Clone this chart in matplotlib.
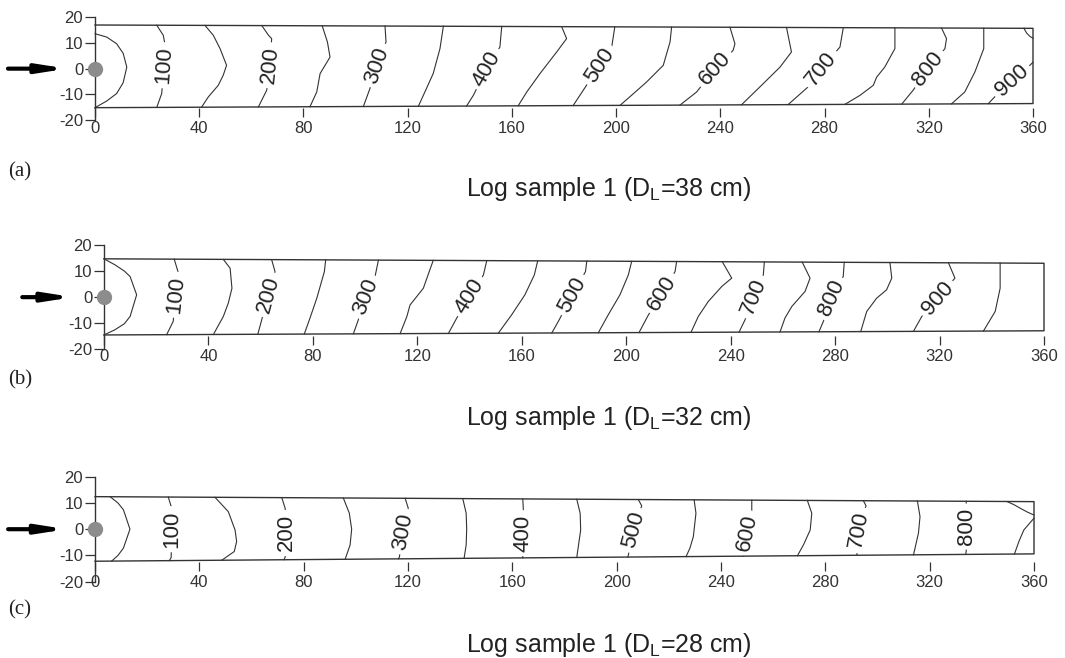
import numpy as np
import matplotlib.pyplot as plt

plt.rcParams["font.family"] = ["Liberation Sans", "DejaVu Sans"]
plt.rcParams["mathtext.fontset"] = "custom"
plt.rcParams["mathtext.rm"] = "Liberation Sans"
plt.rcParams["axes.unicode_minus"] = False

X_TICKS = list(range(0, 361, 40))
Y_TICKS = [-20, -10, 0, 10, 20]

# ------------------------------------------------------------
# (a) D_L = 38 cm
# ------------------------------------------------------------
A_TITLE = r"Log sample 1 (D$_{\mathregular{L}}$=38 cm)"
A_TOP = (17.0, 15.7)      # log top edge, y at x=0 and x=360
A_BOT = (-15.2, -13.6)    # log bottom edge
A_LEVELS = [50, 100, 150, 200, 250, 300, 350, 400, 450, 500,
            550, 600, 650, 700, 750, 800, 850, 900, 950]
A_LINES = [
    [(0.0, 13.6), (4.5, 12.3), (8.3, 9.7), (10.8, 6.0), (12.2, 0.6),
     (10.8, -5.5), (8.3, -9.7), (4.5, -12.6), (0.0, -14.0)],
    [(23.7, 17.0), (26.2, 13.0), (26.9, 9.2), (26.5, 1.3), (25.6, -9.7), (23.7, -15.0)],
    [(42.2, 17.0), (45.4, 13.0), (48.0, 7.8), (50.5, 1.3), (49.2, -2.6),
     (47.3, -6.5), (43.5, -11.0), (40.9, -15.0)],
    [(64.0, 17.0), (66.6, 13.0), (67.8, 11.7), (67.2, 1.3), (65.9, -8.4), (62.7, -15.0)],
    [(87.2, 17.0), (89.2, 10.4), (90.2, 4.5), (88.3, 1.3), (86.4, -1.9), (85.1, -9.1), (82.5, -15.0)],
    [(111.3, 17.0), (111.7, 10.4), (108.3, 1.3), (105.5, -7.8), (103.0, -15.0)],
    [(133.7, 17.0), (132.4, 7.8), (129.8, -1.9), (126.6, -9.1), (124.1, -15.0)],
    [(156.1, 17.0), (155.4, 8.4), (150.3, 0.0), (145.2, -10.4), (142.6, -15.0)],
    [(179.1, 17.0), (181.0, 11.7), (177.2, 6.5), (170.8, -1.9), (165.7, -9.1), (162.4, -14.9)],
    [(199.5, 16.7), (198.3, 8.4), (193.7, 1.3), (187.4, -8.4), (183.5, -14.8)],
    [(221.3, 16.6), (220.7, 10.4), (218.1, 1.3), (211.7, -5.2), (205.9, -10.4), (201.5, -14.7)],
    [(243.7, 16.5), (245.6, 9.7), (244.9, 7.1), (237.9, 0.0), (230.9, -9.1), (224.5, -14.6)],
    [(265.4, 16.4), (266.0, 13.0), (267.3, 6.5), (262.9, 0.6), (255.2, -7.1), (248.1, -14.4)],
    [(287.2, 16.3), (285.9, 8.4), (278.8, 0.0), (273.7, -7.1), (266.0, -14.3)],
    [(307.0, 16.2), (307.0, 7.8), (303.1, 0.6), (300.0, -3.3), (298.7, -6.5), (293.6, -10.4), (287.8, -14.2)],
    [(324.9, 16.0), (326.8, 11.7), (326.2, 7.8), (319.8, 0.0), (314.0, -8.4), (309.6, -14.0)],
    [(341.1, 15.9), (341.1, 7.8), (337.7, -1.3), (333.8, -9.1), (328.7, -13.9)],
    [(360.0, 2.5), (358.8, 1.3), (351.8, -4.6), (345.3, -11.0), (342.8, -13.8)],
    [(356.5, 15.8), (357.6, 13.8), (358.8, 12.6), (360.0, 11.8)],
]
A_LABEL_LEVELS = [100, 200, 300, 400, 500, 600, 700, 800, 900]
A_LABEL_Y = [1.3, 1.3, 1.3, 0.0, 1.3, 0.0, 0.0, 0.0, -4.6]

# ------------------------------------------------------------
# (b) D_L = 32 cm
# ------------------------------------------------------------
B_TITLE = r"Log sample 1 (D$_{\mathregular{L}}$=32 cm)"
B_TOP = (14.7, 13.0)
B_BOT = (-14.5, -12.9)
B_LEVELS = [50, 100, 150, 200, 250, 300, 350, 400, 450, 500,
            550, 600, 650, 700, 750, 800, 850, 900, 950]
B_LINES = [
    [(0.0, 14.5), (4.2, 12.4), (7.8, 10.0), (10.0, 7.9), (12.5, 0.9),
     (10.0, -7.4), (7.8, -10.2), (4.2, -12.5), (0.0, -14.3)],
    [(26.9, 14.7), (28.5, 9.2), (27.5, 0.9), (26.5, -9.3), (24.0, -14.4)],
    [(45.7, 14.7), (48.3, 11.1), (49.0, 3.4), (47.6, -2.3), (45.7, -7.4), (41.9, -14.4)],
    [(64.2, 14.6), (65.5, 9.8), (62.9, 0.9), (60.4, -8.7), (58.9, -14.3)],
    [(84.9, 14.6), (84.4, 9.8), (81.5, -0.4), (78.9, -8.0), (76.7, -14.3)],
    [(105.1, 14.5), (103.8, 7.9), (100.2, 0.2), (97.4, -8.7), (95.5, -14.3)],
    [(126.1, 14.4), (124.8, 10.5), (122.3, 3.4), (117.2, -3.0), (116.0, -7.4), (113.4, -14.2)],
    [(146.6, 14.4), (145.3, 8.5), (140.2, 0.2), (135.1, -8.0), (131.9, -14.1)],
    [(166.1, 14.3), (164.8, 8.5), (161.2, 0.9), (156.1, -6.8), (151.0, -14.0)],
    [(184.9, 14.2), (184.4, 9.8), (179.4, 0.9), (174.0, -9.3), (171.5, -14.0)],
    [(202.1, 14.1), (200.8, 8.5), (197.6, 0.9), (193.1, -6.8), (189.3, -13.8)],
    [(219.3, 14.0), (218.7, 9.8), (213.6, 1.5), (208.5, -6.8), (204.9, -13.8)],
    [(236.8, 13.9), (240.4, 7.3), (236.6, 4.1), (231.4, -1.7), (227.6, -7.4), (224.8, -13.7)],
    [(252.9, 13.8), (252.5, 8.5), (248.7, 0.2), (245.5, -8.7), (243.2, -13.6)],
    [(267.4, 13.7), (270.4, 7.3), (268.5, 2.2), (263.4, -3.6), (260.8, -8.0), (258.9, -13.5)],
    [(283.5, 13.6), (283.1, 7.9), (278.7, -0.4), (275.5, -9.3), (273.8, -13.4)],
    [(301.0, 13.4), (301.7, 7.3), (299.7, 2.8), (295.9, -0.4), (292.1, -5.5), (289.8, -13.3)],
    [(323.4, 13.2), (325.9, 7.3), (319.2, -0.4), (313.2, -7.4), (310.0, -13.1)],
    [(343.2, 13.1), (343.2, 3.4), (341.3, -5.5), (336.8, -13.0)],
]
B_LABEL_LEVELS = [100, 200, 300, 400, 500, 600, 700, 800, 900]
B_LABEL_Y = [0.9, 0.9, 0.2, 0.2, 0.9, 1.5, 0.2, -0.4, -0.4]

# ------------------------------------------------------------
# (c) D_L = 28 cm
# ------------------------------------------------------------
C_TITLE = r"Log sample 1 (D$_{\mathregular{L}}$=28 cm)"
C_TOP = (12.4, 10.5)
C_BOT = (-12.2, -9.4)
C_LEVELS = [50, 100, 150, 200, 250, 300, 350, 400, 450, 500,
            550, 600, 650, 700, 750, 800, 850, 850]
C_LINES = [
    [(5.8, 12.3), (8.8, 10.0), (10.9, 7.4), (13.4, 0.0), (10.9, -7.2), (8.8, -10.0), (6.4, -12.1)],
    [(28.1, 12.3), (29.4, 8.0), (29.4, 0.0), (29.2, -10.8), (28.5, -12.1)],
    [(46.0, 12.3), (51.1, 6.7), (53.7, -0.3), (54.3, -4.7), (53.4, -8.5), (48.6, -12.1)],
    [(71.6, 12.0), (72.9, 8.0), (73.5, -1.3), (72.9, -10.6), (72.5, -12.0)],
    [(95.2, 11.9), (97.5, 6.1), (98.4, 0.0), (97.8, -6.0), (95.9, -11.9)],
    [(118.9, 11.8), (120.1, 8.0), (118.2, -0.9), (116.7, -10.6), (116.3, -11.6)],
    [(141.0, 11.7), (142.3, 6.1), (142.5, 0.0), (142.3, -6.0), (141.5, -11.5)],
    [(164.0, 11.6), (164.2, 8.0), (164.2, -1.5), (164.0, -10.6), (164.0, -11.3)],
    [(184.7, 11.5), (186.0, 6.1), (186.2, -0.3), (185.3, -6.6), (184.7, -11.0)],
    [(208.3, 11.3), (209.6, 8.9), (206.4, -0.3), (204.8, -8.5), (204.3, -10.8)],
    [(229.7, 11.2), (230.4, 6.1), (229.4, -2.8), (228.1, -7.2), (226.6, -10.7)],
    [(251.8, 11.1), (251.8, 6.7), (249.9, -1.5), (248.6, -8.5), (248.6, -10.5)],
    [(273.1, 11.0), (274.8, 6.1), (274.2, -0.3), (271.6, -6.0), (269.3, -10.3)],
    [(294.6, 10.8), (295.6, 8.9), (292.7, -0.3), (292.1, -10.1)],
    [(315.3, 10.7), (316.3, 4.8), (315.7, -1.5), (313.8, -9.9)],
    [(334.0, 10.6), (334.1, 8.6), (334.1, 1.0), (334.0, -8.5), (333.8, -9.7)],
    [(349.6, 10.6), (352.4, 9.3), (354.7, 8.0), (357.5, 6.5), (360.0, 5.4)],
    [(360.0, 4.2), (356.1, -0.3), (354.2, -4.7), (352.5, -9.5)],
]
C_LABEL_LEVELS = [100, 200, 300, 400, 500, 600, 700, 800]
C_LABEL_Y = [0.0, -1.3, -0.9, -1.5, -0.3, -1.5, -0.3, 1.0]

INK = "#333333"
W, H = 1065, 658

fig = plt.figure(figsize=(W / 100, H / 100), dpi=100)


def edge_y(edge, x):
    return edge[0] + (edge[1] - edge[0]) * x / 360.0


def draw_panel(box, axis_y, top, bot, levels, lines, lab_levels, lab_y,
               arrow_x, tag, tag_base, title, title_base):
    left, ytop, right, ybot = box
    ax = fig.add_axes([left / W, 1 - ybot / H, (right - left) / W, (ybot - ytop) / H])
    ax.set_xlim(0, 360)
    ax.set_ylim(-20, 20)
    ax.patch.set_visible(False)

    for s in ["top", "right"]:
        ax.spines[s].set_visible(False)
    ax.spines["bottom"].set_position(("data", axis_y))
    ax.spines["bottom"].set_visible(False)
    ax.spines["left"].set_color(INK)
    ax.spines["left"].set_linewidth(1.0)

    ax.set_xticks(X_TICKS)
    ax.set_yticks(Y_TICKS)
    ax.tick_params(axis="x", length=6.5, width=0.9, pad=2.5, labelsize=12,
                   colors=INK)
    ax.tick_params(axis="y", length=7, width=0.9, pad=1.5, labelsize=12,
                   colors=INK)

    # log outline
    ax.plot([0, 360, 360, 0], [top[0], top[1], bot[1], bot[0]],
            color=INK, lw=1.0, clip_on=False, zorder=5)

    # isochrone lines
    for pts in lines:
        xs = np.array([p[0] for p in pts])
        ys = np.array([p[1] for p in pts])
        if abs(ys[0] - edge_y(top, xs[0])) < 1.2:
            ys[0] = edge_y(top, xs[0])
        if abs(ys[-1] - edge_y(bot, xs[-1])) < 1.2:
            ys[-1] = edge_y(bot, xs[-1])
        ax.plot(xs, ys, color=INK, lw=0.8, clip_on=False, zorder=2)

    # inline labels
    for lev, yl in zip(lab_levels, lab_y):
        pts = lines[levels.index(lev)]
        xs = np.array([p[0] for p in pts])[::-1]
        ys = np.array([p[1] for p in pts])[::-1]
        xl = np.interp(yl, ys, xs)
        p1 = ax.transData.transform((np.interp(yl - 3, ys, xs), yl - 3))
        p2 = ax.transData.transform((np.interp(yl + 3, ys, xs), yl + 3))
        ang = np.degrees(np.arctan2(p2[1] - p1[1], p2[0] - p1[0]))
        ax.text(xl, yl, str(lev), rotation=ang, rotation_mode="anchor",
                ha="center", va="center", fontsize=16, color="#222222",
                zorder=4,
                bbox=dict(boxstyle="square,pad=0.2", fc="white", ec="none"))

    # source point and impact arrow
    ax.plot(0, 0, "o", ms=10, color="#8c8c8c", clip_on=False, zorder=6)
    ax.annotate("", xy=(arrow_x[1], 0), xytext=(arrow_x[0], 0),
                annotation_clip=False,
                arrowprops=dict(arrowstyle="-|>,head_length=1.6,head_width=0.25",
                                lw=3, color="black", shrinkA=0, shrinkB=0))

    fig.text(8 / W, 1 - tag_base / H, tag, family="Liberation Serif",
             fontsize=15, va="baseline", ha="left", color="#222222")
    fig.text(609 / W, 1 - title_base / H, title, fontsize=18,
             ha="center", va="baseline", color="#222222")
    return ax


draw_panel((95, 17.3, 1033, 120.0), -15.5, A_TOP, A_BOT, A_LEVELS, A_LINES,
           A_LABEL_LEVELS, A_LABEL_Y, (-33.4, -10.7), "(a)", 176, A_TITLE, 196)
draw_panel((104, 245.0, 1044, 349.3), -15.0, B_TOP, B_BOT, B_LEVELS, B_LINES,
           B_LABEL_LEVELS, B_LABEL_Y, (-31.3, -11.8), "(b)", 384, B_TITLE, 425)
draw_panel((95, 476.7, 1034, 581.7), -12.6, C_TOP, C_BOT, C_LEVELS, C_LINES,
           C_LABEL_LEVELS, C_LABEL_Y, (-33.3, -10.9), "(c)", 614, C_TITLE, 652)

fig.savefig("out.png", dpi=100)
